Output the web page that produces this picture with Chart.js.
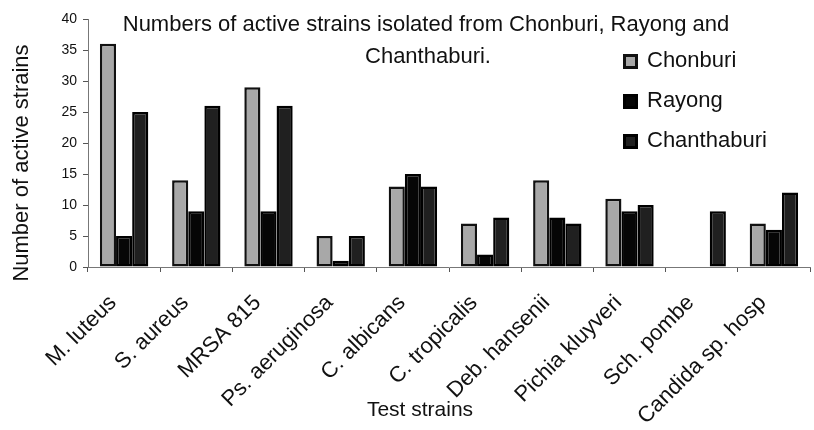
<!DOCTYPE html>
<html>
<head>
<meta charset="utf-8">
<script src="https://cdn.jsdelivr.net/npm/chart.js@4"></script>
<style>
  html, body { margin: 0; padding: 0; background: #fff; }
  #wrap { width: 814px; height: 430px; }
</style>
</head>
<body>
<div id="wrap"><canvas id="chart" width="814" height="430"></canvas></div>
<script>
const categories = ["M. luteus", "S. aureus", "MRSA 815", "Ps. aeruginosa", "C. albicans",
  "C. tropicalis", "Deb. hansenii", "Pichia kluyveri", "Sch. pombe", "Candida sp. hosp"];
const chonburi = [36, 14, 29, 5, 13, 7, 14, 11, 0, 7];
const rayong = [5, 9, 9, 1, 15, 2, 8, 9, 0, 6];
const chanthaburi = [25, 26, 26, 5, 13, 8, 7, 10, 9, 12];
const yTicks = [0, 5, 10, 15, 20, 25, 30, 35, 40];
const titleLines = ["Numbers of active strains isolated from Chonburi, Rayong and", "Chanthaburi."];
const xTitle = "Test strains";
const yTitle = "Number of active strains";

const FONT = "'Liberation Sans', Arial, sans-serif";

const seriesStyle = [
  { label: "Chonburi", data: chonburi, fill: "#a8a8a8", border: "#111" },
  { label: "Rayong", data: rayong, fill: "#060606", border: "#000" },
  { label: "Chanthaburi", data: chanthaburi, fill: "#202020", border: "#000" }
];

// title, legend and axis titles are placed by hand like the original
const overlay = {
  id: "overlay",
  afterDraw(chart) {
    const ctx = chart.ctx;
    ctx.save();
    ctx.fillStyle = "#111";
    ctx.font = "22px " + FONT;
    ctx.textAlign = "center";
    ctx.textBaseline = "middle";
    ctx.fillText(titleLines[0], 426, 25);
    ctx.fillText(titleLines[1], 428, 57);

    ctx.font = "21px " + FONT;
    ctx.fillText(xTitle, 420, 410);

    ctx.save();
    ctx.translate(22, 163);
    ctx.rotate(-Math.PI / 2);
    ctx.font = "22px " + FONT;
    ctx.fillText(yTitle, 0, 0);
    ctx.restore();

    ctx.textAlign = "left";
    ctx.font = "22px " + FONT;
    seriesStyle.forEach((s, i) => {
      const y = 61 + i * 40;
      ctx.fillStyle = s.border;
      ctx.fillRect(623, y - 7, 15, 15);
      ctx.fillStyle = s.fill;
      ctx.fillRect(626, y - 4, 9, 9);
      ctx.fillStyle = "#111";
      ctx.fillText(s.label, 647, y);
    });
    ctx.restore();
  }
};

new Chart(document.getElementById("chart"), {
  type: "bar",
  data: {
    labels: categories,
    datasets: seriesStyle.map(s => ({
      label: s.label,
      data: s.data,
      backgroundColor: s.fill,
      borderColor: s.border,
      borderWidth: 2.5,
      borderSkipped: false,
      categoryPercentage: 0.67,
      barPercentage: 1.0
    }))
  },
  options: {
    responsive: false,
    animation: false,
    layout: { padding: { top: 19, right: 4, left: 0, bottom: 0 } },
    plugins: {
      legend: { display: false },
      tooltip: { enabled: false }
    },
    scales: {
      x: {
        offset: true,
        grid: { display: true, drawOnChartArea: false, offset: true, tickLength: 5, color: "#555" },
        border: { color: "#777", width: 1 },
        ticks: {
          color: "#111",
          font: { family: FONT, size: 22 },
          maxRotation: 45,
          minRotation: 45,
          autoSkip: false,
          padding: 18,
          labelOffset: -11
        },
        afterFit(scale) { scale.height = 163; }
      },
      y: {
        min: 0,
        max: 40,
        afterBuildTicks(scale) { scale.ticks = yTicks.map(v => ({ value: v })); },
        grid: { display: true, drawOnChartArea: false, tickLength: 5, color: "#555" },
        border: { color: "#777", width: 1 },
        ticks: {
          color: "#111",
          font: { family: FONT, size: 14 },
          padding: 6
        },
        afterFit(scale) { scale.width = 88; }
      }
    }
  },
  plugins: [overlay]
});
</script>
</body>
</html>
